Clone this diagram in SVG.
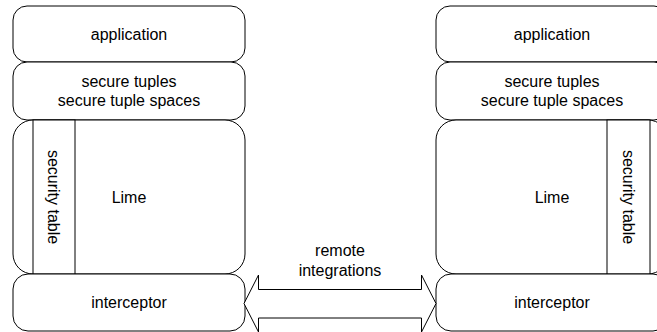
<svg xmlns="http://www.w3.org/2000/svg" width="657" height="332" viewBox="0 0 657 332">
  <style>
    .box { fill: #ffffff; stroke: #000000; stroke-width: 1; }
    .lbl { font-family: "Liberation Sans", Arial, sans-serif; font-size: 16px; fill: #000000; text-anchor: middle; }
    .arrow { fill: #ffffff; stroke: #000000; stroke-width: 1; stroke-linejoin: miter; }
  </style>
  <rect width="657" height="332" fill="#ffffff"/>

  <!-- Left host stack -->
  <g id="left-application">
    <rect class="box" x="13" y="6" width="232" height="56" rx="14" ry="14"/>
    <text class="lbl" x="129" y="40">application</text>
  </g>
  <g id="left-secure-tuples">
    <rect class="box" x="13" y="62" width="232" height="58" rx="14" ry="14"/>
    <text class="lbl" x="129" y="87">secure tuples</text>
    <text class="lbl" x="129" y="106">secure tuple spaces</text>
  </g>
  <g id="left-lime">
    <rect class="box" x="13" y="120" width="232" height="154" rx="20" ry="20"/>
    <text class="lbl" x="129" y="203">Lime</text>
  </g>
  <g id="left-security-table">
    <rect class="box" x="33" y="120" width="42" height="154"/>
    <text class="lbl" transform="translate(54 197) rotate(90)" y="6">security table</text>
  </g>
  <g id="left-interceptor">
    <rect class="box" x="13" y="274" width="232" height="57" rx="15" ry="15"/>
    <text class="lbl" x="129" y="308">interceptor</text>
  </g>

  <!-- Right host stack (extends past the right edge) -->
  <g id="right-application">
    <rect class="box" x="436" y="6" width="232" height="56" rx="14" ry="14"/>
    <text class="lbl" x="552" y="40">application</text>
  </g>
  <g id="right-secure-tuples">
    <rect class="box" x="436" y="62" width="232" height="58" rx="14" ry="14"/>
    <text class="lbl" x="552" y="87">secure tuples</text>
    <text class="lbl" x="552" y="106">secure tuple spaces</text>
  </g>
  <g id="right-lime">
    <rect class="box" x="436" y="120" width="232" height="154" rx="20" ry="20"/>
    <text class="lbl" x="552" y="203">Lime</text>
  </g>
  <g id="right-security-table">
    <rect class="box" x="607" y="120" width="43" height="154"/>
    <text class="lbl" transform="translate(628.5 197) rotate(90)" y="6">security table</text>
  </g>
  <g id="right-interceptor">
    <rect class="box" x="436" y="274" width="232" height="57" rx="15" ry="15"/>
    <text class="lbl" x="552" y="308">interceptor</text>
  </g>

  <!-- Connectors -->
  <g id="connectors">
    <path class="arrow" d="M244 303.5 L258.5 275 L258.5 289.5 L421.5 289.5 L421.5 275 L436 303.5 L421.5 332 L421.5 318 L258.5 318 L258.5 332 Z"/>
    <text class="lbl" x="340" y="256">remote</text>
    <text class="lbl" x="340" y="276">integrations</text>
  </g>
</svg>
